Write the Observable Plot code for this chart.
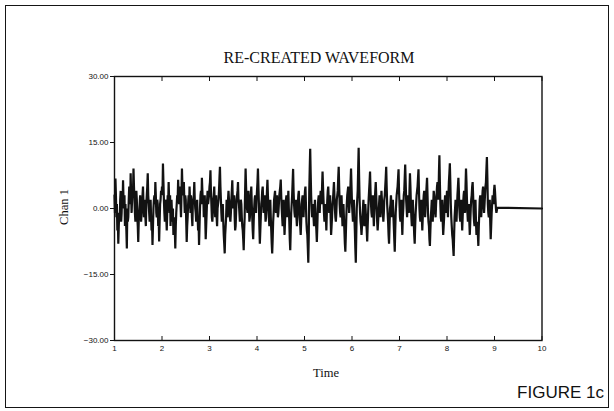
<!DOCTYPE html>
<html>
<head>
<meta charset="utf-8">
<script src="https://cdn.jsdelivr.net/npm/d3@7"></script>
<script src="https://cdn.jsdelivr.net/npm/@observablehq/plot@0.6"></script>
<style>
  html, body { margin: 0; padding: 0; background: #fff; }
  #page { position: relative; width: 614px; height: 411px; overflow: hidden; background: #fff; }
  #border { position: absolute; left: 5px; top: 5px; width: 602px; height: 401px; border: 1.6px solid #151515; }
  #chart { position: absolute; left: 0; top: 0; }
  .lbl { position: absolute; color: #111; white-space: nowrap; line-height: 1; }
  #title { left: 319px; top: 58px; transform: translate(-50%, -50%); font-family: "Liberation Serif", "DejaVu Serif", serif; font-size: 16px; }
  #ylab { left: 64px; top: 207px; transform: translate(-50%, -50%) rotate(-90deg); font-family: "Liberation Serif", serif; font-size: 12.5px; }
  #xlab { left: 326px; top: 373px; transform: translate(-50%, -50%); font-family: "Liberation Serif", serif; font-size: 12.5px; }
  #fig { right: 10px; top: 392px; transform: translateY(-50%); font-family: "Liberation Sans", Arial, sans-serif; font-size: 17px; }
</style>
</head>
<body>
<div id="page">
  <div id="border"></div>
  <div id="chart"></div>
  <div class="lbl" id="title">RE-CREATED WAVEFORM</div>
  <div class="lbl" id="ylab">Chan 1</div>
  <div class="lbl" id="xlab">Time</div>
  <div class="lbl" id="fig">FIGURE 1c</div>
</div>
<script>
// ---- data ----
const titleText = "RE-CREATED WAVEFORM";
const yLabel = "Chan 1";
const xLabel = "Time";
const xTicks = [1, 2, 3, 4, 5, 6, 7, 8, 9, 10];
const yTicks = [-30, -15, 0, 15, 30];

// sampled waveform: start time and sample interval
const sampleStart = 1.0;
const sampleStep = 0.02;
// samples at t = 1.00, 1.02, 1.04, ...
const chan1 = [
  // 1.00 - 1.98
  3, 6.8, -2, -5, -8, -1, 2, -3, 3, 6.4, 0, -4, -2, -9.1, -3, 2, 4, 8, -1, 5,
  9.1, 2, -3, 4, -2, -7.6, -1, 3, -3, 1, 5, -2, 2, -4, 3, 8, 1, -3, 2, -5,
  -8.3, 0, 3, 6, -1, 2, -4, -7.5, 1, 4,
  // 2.00 - 2.98
  5, 10.2, 2, -3, 1, -5, 3, 6, -1, -4, 2, -3, -6, -2, -9.1, -1, 3, 6.5, 1, 4,
  -2, 9.1, 3, 6, -1, 2, -7.6, -2, 3, 5, -1, 2, -4, 1, 6, 0, -3, 2, -5, -8.3,
  0, 4, 7, 1, -2, 3, -7, -1, 4, 2,
  // 3.00 - 3.98
  5, 8.7, 1, -3, 2, 5, -2, 3, -4, 1, 4, 9.5, 2, -3, 1, -6, -10.2, -4, 2, -2,
  4, 1, -3, 2, 6.4, 0, 3, -5, -1, 3, 6, 1, -3, 2, -2, -5, -9.5, -2, 9.1, 2,
  -1, 4, -3, 1, 5, -2, -7, 0, 3, -1,
  // 4.00 - 4.98
  4, 9.1, 1, -8, -2, 2, 5, -1, 3, -3, 1, 6.5, 0, -4, 2, -5, -10.2, -3, 2, 4,
  -1, 3, -2, 1, 4, 6.6, 0, -4, 2, -6, 0, 3, -2, 4, -3, -9.5, -1, 3, 9, 1,
  -2, 2, -4, 1, 4, -2, -6, 1, 3, -2,
  // 5.00 - 5.98
  2, 5, -3, -6, -12.3, 4, 13.6, 3, -2, 1, -4, 2, -3, -7.6, 0, 3, -1, 4, 1, 8.4,
  2, -3, 1, -5, 2, 5, -1, 3, -6, -2, 2, 6, 0, -3, 2, 4, 9.5, 1, -2, 3,
  -4, 1, -5, -9.8, -2, 3, 5, -1, 2, 9.1,
  // 6.00 - 6.98
  1, -3, 2, -5, -12.3, 0, 4, 13.8, 2, -3, -6, -2, 2, -4, 1, -3, -7.5, -1, 4, 8.4,
  1, -2, 3, -4, 2, 6, 0, -5, -1, 3, -2, 4, 1, -3, 2, 5, 9.5, 1, -3, -8,
  0, 3, -2, 2, -4, -9.8, -1, 3, 5, 8.9,
  // 7.00 - 7.98
  1, -3, 2, -6, 0, 4, 10, 2, -2, 3, -1, 8, 1, -4, 2, -3, -8, -1, 3, 5,
  8.9, 0, -3, 2, -5, 1, 4, -2, 3, 7, -1, -4, -8.5, -2, 2, -3, 4, 1, -2, 3,
  6, 2, 12.1, 1, -3, 2, -6, -2, 3, -1,
  // 8.00 - 8.98
  4, -2, 6, 10.3, 1, -4, -7, -10.8, -2, 2, -3, 3, 7, 0, -3, 2, -5, 1, 4, -1,
  9.1, 2, -3, 1, -6, 0, 3, 6, -1, -4, 2, -6, -3, -8.5, -1, 3, -2, 2, 5, -1,
  3, 6, 11.7, 1, -2, 2, -7, -1, 3, 1,
  // 9.00 - 9.04
  5.4, 2, -1
];
// in-between samples at t = 1.01, 1.03, 1.05, ...
const chan1Mid = [
  // 1.01 - 1.99
  -1, 3, 1, -2, -4, -3, 4, -1, 1, 2, 3, 1, -5, 0, -2, 5, 1, 3, 2, 4,
  5, -1, 1, 2, -4, -3, 1, 0, -1, 3, 1, -1, -2, 1, 5, 3, -1, 1, -2, -3,
  -4, 2, 1, 3, -2, 1, -2, -3, 2, 3,
  // 2.01 - 2.99
  3, 6, -1, 2, -2, -1, 1, 2, 3, 1, -1, 0, -3, -5, -4, 1, 2, 3, 5, 1,
  3, 5, 4, 2, 3, -3, -4, 1, 0, 2, 3, -2, 2, 3, 2, -1, 0, -2, -3, -4,
  3, 1, 4, 3, 0, -2, -4, 2, 1, 3,
  // 3.01 - 3.99
  6, 4, -2, -1, 3, 1, 1, -2, 0, 2, 7, 5, -1, -2, -3, -8, -6, -2, -1, 2,
  2, -2, -1, 4, 2, 1, -2, -4, 2, 4, 2, -1, 0, 1, -4, -7, -5, 4, 5, 0,
  2, 1, -2, 3, 1, -5, -3, 2, 1, 2,
  // 4.01 - 4.99
  6, 5, -4, -5, 1, 4, 2, 1, 0, -2, 4, 3, -2, -1, -2, -8, -7, -1, 3, 1,
  1, 0, -1, 3, 5, 3, -2, -1, -3, -3, 2, 0, 1, 0, -7, -5, 1, 6, 4, -1,
  0, -2, -2, 3, 1, -4, -3, 2, 0, 1,
  // 5.01 - 5.99
  4, 1, -5, -9, -6, 9, 8, 0, -1, -2, -1, -1, -5, -4, 2, 1, 2, 3, 5, 5,
  -1, -1, -2, -1, 4, 2, 1, -2, -4, 1, 4, 3, -2, -1, 3, 7, 5, -1, 1, -1,
  -2, -2, -8, -6, 1, 4, 2, 1, 6, 5,
  // 6.01 - 6.99
  -1, -1, -2, -9, -6, 2, 9, 7, -1, -4, -4, 0, -1, -2, -1, -5, -4, 2, 6, 4,
  -1, 1, -1, -1, 4, 3, -3, -3, 1, 1, 1, 2, -1, -1, 3, 7, 5, -1, -6, -4,
  1, 1, 0, -1, -7, -5, 1, 4, 7, 4,
  // 7.01 - 7.99
  -2, 0, -3, -2, 3, 7, 6, 0, 1, 1, 4, 5, -2, -1, -1, -6, -4, 1, 4, 7,
  4, -2, 0, -2, -2, 3, 1, 1, 5, 3, -3, -7, -5, 0, -1, 1, 3, -1, 1, 5,
  4, 8, 6, -2, 0, -3, -4, 1, 1, 2,
  // 8.01 - 8.99
  1, 3, 8, 6, -2, -6, -9, -6, 0, -1, 0, 5, 4, -2, -1, -2, -2, 3, 2, 5,
  6, -1, -1, -3, -3, 2, 5, 3, -3, -1, -3, -5, -6, -4, 2, 0, 0, 4, 2, 1,
  5, 9, 7, -1, 0, -3, -4, 1, 2, 4,
  // 9.01 - 9.03
  4, 0
];
// flat tail after the recording stops
const tailTime = [9.06, 10];
const tailValue = [0.2, 0];

// ---- build table (interleave samples by time) ----
const rows = [];
chan1.forEach((v, i) => {
  const t = sampleStart + i * sampleStep;
  rows.push({t, v});
  if (i < chan1Mid.length) rows.push({t: t + sampleStep / 2, v: chan1Mid[i]});
});
tailTime.forEach((t, i) => rows.push({t, v: tailValue[i]}));

const fmtY = d => (d < 0 ? "\u2212" : "") + Math.abs(d).toFixed(2);
const ink = "#121212";

const chart = Plot.plot({
  width: 614,
  height: 411,
  marginLeft: 114,
  marginRight: 72.5,
  marginTop: 76,
  marginBottom: 71,
  style: {fontFamily: "Liberation Sans, Arial, sans-serif", fontSize: "8px", color: ink, background: "transparent"},
  x: {domain: [1, 10]},
  y: {domain: [-30, 30]},
  marks: [
    Plot.line(rows, {x: "t", y: "v", stroke: ink, strokeWidth: 2.2, strokeLinejoin: "miter", strokeMiterlimit: 1.5}),
    Plot.frame({stroke: ink, strokeWidth: 1.4}),
    // bottom labels
    Plot.axisX({ticks: xTicks, anchor: "bottom", tickSize: 0, tickPadding: 5, label: null, tickFormat: d => String(d), fontSize: 8, fill: ink}),
    // bottom inward ticks
    Plot.axisX({ticks: xTicks, anchor: "bottom", tickSize: 4, dy: -4, text: null, label: null, stroke: ink}),
    // top inward ticks
    Plot.axisX({ticks: xTicks, anchor: "top", tickSize: 4, dy: 4, text: null, label: null, stroke: ink}),
    // left axis
    Plot.axisY({ticks: yTicks, anchor: "left", tickSize: 4, tickPadding: 2, label: null, tickFormat: fmtY, fontSize: 8, stroke: ink, fill: ink})
  ]
});
document.getElementById("chart").appendChild(chart);
</script>
</body>
</html>
